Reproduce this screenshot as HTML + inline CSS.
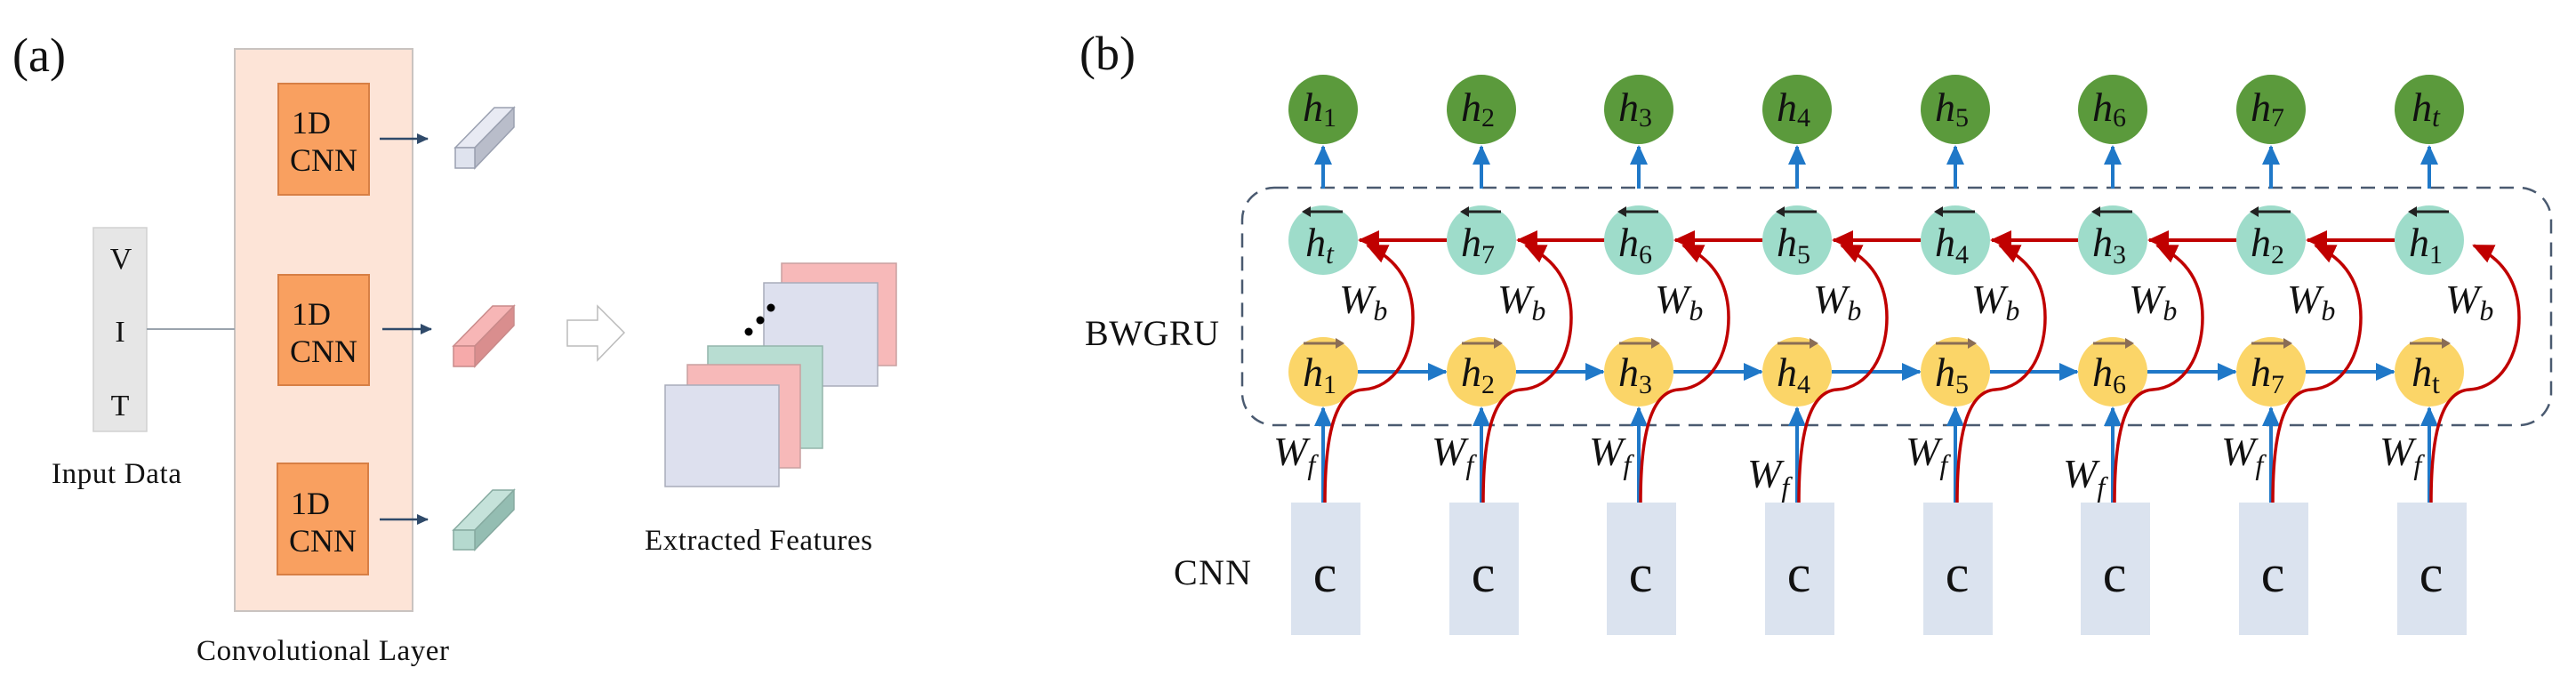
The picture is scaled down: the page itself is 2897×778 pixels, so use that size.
<!DOCTYPE html>
<html><head><meta charset="utf-8"><style>
html,body{margin:0;padding:0;background:#fff;}
svg{display:block;}
.t{font-family:"Liberation Serif",serif;fill:#111;}
.m{font-family:"Liberation Serif",serif;font-style:italic;fill:#111;font-size:46px;}
.s{font-style:normal;font-size:30px;}
</style></head><body>
<svg width="2897" height="778" viewBox="0 0 2897 778" xmlns="http://www.w3.org/2000/svg">
<defs>
<marker id="ab" markerUnits="userSpaceOnUse" markerWidth="24" markerHeight="24" refX="20" refY="12" orient="auto"><path d="M0,2 L22,12 L0,22 Z" fill="#1f78c8"/></marker>
<marker id="ar" markerUnits="userSpaceOnUse" markerWidth="26" markerHeight="26" refX="22" refY="13" orient="auto"><path d="M0,2 L24,13 L0,24 Z" fill="#c00000"/></marker>
<marker id="ad" markerUnits="userSpaceOnUse" markerWidth="14" markerHeight="14" refX="12" refY="7" orient="auto"><path d="M0,1 L13,7 L0,13 Z" fill="#2f4a6a"/></marker>
<g id="bk"><line x1="-22" y1="-32" x2="22" y2="-32" stroke="#222" stroke-width="3"/><path d="M-24,-32 L-14,-38 L-14,-26 Z" fill="#222"/></g>
<g id="fw"><line x1="-22" y1="-32" x2="22" y2="-32" stroke="#8a6d55" stroke-width="3"/><path d="M24,-32 L14,-38 L14,-26 Z" fill="#8a6d55"/></g>
</defs>

<!-- ===== (a) ===== -->
<text class="t" x="14" y="80" font-size="54">(a)</text>
<rect x="264" y="55" width="200" height="632" fill="#fde4d7" stroke="#c9c3c0" stroke-width="2"/>
<rect x="313" y="94" width="102" height="125" fill="#f9a060" stroke="#d77f45" stroke-width="2"/>
<rect x="313" y="309" width="102" height="124" fill="#f9a060" stroke="#d77f45" stroke-width="2"/>
<rect x="312" y="521" width="102" height="125" fill="#f9a060" stroke="#d77f45" stroke-width="2"/>
<text class="t" font-size="36"><tspan x="328" y="150">1D</tspan><tspan x="326" y="192">CNN</tspan></text>
<text class="t" font-size="36"><tspan x="328" y="365">1D</tspan><tspan x="326" y="407">CNN</tspan></text>
<text class="t" font-size="36"><tspan x="327" y="578">1D</tspan><tspan x="325" y="620">CNN</tspan></text>
<line x1="427" y1="156" x2="481" y2="156" stroke="#2f4a6a" stroke-width="2.5" marker-end="url(#ad)"/>
<line x1="430" y1="370" x2="485" y2="370" stroke="#2f4a6a" stroke-width="2.5" marker-end="url(#ad)"/>
<line x1="427" y1="584" x2="481" y2="584" stroke="#2f4a6a" stroke-width="2.5" marker-end="url(#ad)"/>
<!-- bars -->
<g stroke="#9aa0b0" stroke-width="1.5">
<polygon points="512,166 556,121 578,121 534,166" fill="#e8eaf3"/>
<polygon points="534,166 578,121 578,143 534,189" fill="#b9bdca"/>
<rect x="512" y="166" width="22" height="23" fill="#dfe3ee"/>
</g>
<g stroke="#c98a8a" stroke-width="1.5">
<polygon points="510,389 554,344 578,344 534,389" fill="#f7b6b6"/>
<polygon points="534,389 578,344 578,366 534,412" fill="#d98e8e"/>
<rect x="510" y="389" width="24" height="23" fill="#f6aaaa"/>
</g>
<g stroke="#86aaa0" stroke-width="1.5">
<polygon points="510,596 554,551 578,551 534,596" fill="#c5e2da"/>
<polygon points="534,596 578,551 578,573 534,618" fill="#94bdb2"/>
<rect x="510" y="596" width="24" height="22" fill="#b5d9cf"/>
</g>
<!-- VIT -->
<rect x="105" y="256" width="60" height="229" fill="#e6e6e6" stroke="#d0d0d0" stroke-width="1.5"/>
<text class="t" font-size="34" text-anchor="middle"><tspan x="136" y="302">V</tspan><tspan x="135" y="384">I</tspan><tspan x="135" y="467">T</tspan></text>
<line x1="165" y1="370" x2="264" y2="370" stroke="#9aa3ad" stroke-width="2"/>
<text class="t" x="58" y="543" font-size="33" textLength="146">Input Data</text>
<text class="t" x="221" y="742" font-size="33" textLength="284">Convolutional Layer</text>
<!-- hollow arrow -->
<polygon points="638,360 672,360 672,344 702,374 672,405 672,389 638,389" fill="#fff" stroke="#bbb" stroke-width="1.5"/>
<!-- feature maps -->
<rect x="879" y="296" width="129" height="115" fill="#f7b9b9" stroke="#c9a0a0" stroke-width="1.5"/>
<rect x="859" y="318" width="128" height="116" fill="#dde0ee" stroke="#a8acba" stroke-width="1.5"/>
<rect x="796" y="389" width="129" height="115" fill="#b8ddd2" stroke="#94b5ab" stroke-width="1.5"/>
<rect x="773" y="410" width="127" height="116" fill="#f7b9b9" stroke="#c9a0a0" stroke-width="1.5"/>
<rect x="748" y="433" width="128" height="114" fill="#dde0ee" stroke="#a8acba" stroke-width="1.5"/>
<circle cx="867" cy="346" r="4.5" fill="#000"/><circle cx="855" cy="360" r="4.5" fill="#000"/><circle cx="842" cy="373" r="4.5" fill="#000"/>
<text class="t" x="725" y="618" font-size="33" textLength="256">Extracted Features</text>

<!-- ===== (b) ===== -->
<text class="t" x="1214" y="78" font-size="54">(b)</text>
<text class="t" x="1220" y="388" font-size="40" textLength="151">BWGRU</text>
<text class="t" x="1320" y="657" font-size="40" textLength="87">CNN</text>
<rect x="1397" y="211" width="1472" height="267" rx="36" ry="36" fill="none" stroke="#4a5a70" stroke-width="2.5" stroke-dasharray="16,10"/>

<!-- horizontal arrows -->
<g stroke="#1f78c8" stroke-width="4" marker-end="url(#ab)">
<line x1="1527" y1="418" x2="1626" y2="418"/>
<line x1="1705" y1="418" x2="1803" y2="418"/>
<line x1="1882" y1="418" x2="1981" y2="418"/>
<line x1="2060" y1="418" x2="2159" y2="418"/>
<line x1="2238" y1="418" x2="2336" y2="418"/>
<line x1="2415" y1="418" x2="2514" y2="418"/>
<line x1="2593" y1="418" x2="2692" y2="418"/>
</g>
<g stroke="#c00000" stroke-width="4" marker-end="url(#ar)">
<line x1="1627" y1="270" x2="1529" y2="270"/>
<line x1="1805" y1="270" x2="1707" y2="270"/>
<line x1="1982" y1="270" x2="1884" y2="270"/>
<line x1="2160" y1="270" x2="2062" y2="270"/>
<line x1="2337" y1="270" x2="2240" y2="270"/>
<line x1="2515" y1="270" x2="2417" y2="270"/>
<line x1="2693" y1="270" x2="2595" y2="270"/>
</g>

<!-- column 1 -->
<g transform="translate(1488,0)">
<rect x="-36" y="565" width="78" height="149" fill="#dbe3ef"/>
<text class="t" x="2" y="665" font-size="60" text-anchor="middle">c</text>
<line x1="0" y1="212" x2="0" y2="165" stroke="#1f78c8" stroke-width="4" marker-end="url(#ab)"/>
<line x1="0" y1="565" x2="0" y2="459" stroke="#1f78c8" stroke-width="4" marker-end="url(#ab)"/>
<circle cx="0" cy="123" r="39" fill="#5b9a3c"/>
<circle cx="0" cy="270" r="39" fill="#9edcca"/>
<circle cx="0" cy="418" r="39" fill="#fbd568"/>
<path d="M2,565 C2,500 10,440 45,438 C80,436 101,400 101,357 C101,315 80,290 50,276" fill="none" stroke="#c00000" stroke-width="3.5" marker-end="url(#ar)"/>
<text class="m" x="-4" y="136" text-anchor="middle">h<tspan class="s" dy="6">1</tspan></text>
<g transform="translate(0,270)"><use href="#bk"/></g>
<text class="m" x="-4" y="288" text-anchor="middle">h<tspan dy="8" font-size="32">t</tspan></text>
<g transform="translate(0,418)"><use href="#fw"/></g>
<text class="m" x="-4" y="434" text-anchor="middle">h<tspan class="s" dy="8">1</tspan></text>
<text class="m" x="18" y="352">W<tspan dy="8" font-size="32">b</tspan></text>
<text class="m" x="-56" y="523">W<tspan dy="10" font-size="32">f</tspan></text>
</g>
<!-- column 2 -->
<g transform="translate(1666,0)">
<rect x="-36" y="565" width="78" height="149" fill="#dbe3ef"/>
<text class="t" x="2" y="665" font-size="60" text-anchor="middle">c</text>
<line x1="0" y1="212" x2="0" y2="165" stroke="#1f78c8" stroke-width="4" marker-end="url(#ab)"/>
<line x1="0" y1="565" x2="0" y2="459" stroke="#1f78c8" stroke-width="4" marker-end="url(#ab)"/>
<circle cx="0" cy="123" r="39" fill="#5b9a3c"/>
<circle cx="0" cy="270" r="39" fill="#9edcca"/>
<circle cx="0" cy="418" r="39" fill="#fbd568"/>
<path d="M2,565 C2,500 10,440 45,438 C80,436 101,400 101,357 C101,315 80,290 50,276" fill="none" stroke="#c00000" stroke-width="3.5" marker-end="url(#ar)"/>
<text class="m" x="-4" y="136" text-anchor="middle">h<tspan class="s" dy="6">2</tspan></text>
<g transform="translate(0,270)"><use href="#bk"/></g>
<text class="m" x="-4" y="288" text-anchor="middle">h<tspan class="s" dy="8">7</tspan></text>
<g transform="translate(0,418)"><use href="#fw"/></g>
<text class="m" x="-4" y="434" text-anchor="middle">h<tspan class="s" dy="8">2</tspan></text>
<text class="m" x="18" y="352">W<tspan dy="8" font-size="32">b</tspan></text>
<text class="m" x="-56" y="523">W<tspan dy="10" font-size="32">f</tspan></text>
</g>
<!-- column 3 -->
<g transform="translate(1843,0)">
<rect x="-36" y="565" width="78" height="149" fill="#dbe3ef"/>
<text class="t" x="2" y="665" font-size="60" text-anchor="middle">c</text>
<line x1="0" y1="212" x2="0" y2="165" stroke="#1f78c8" stroke-width="4" marker-end="url(#ab)"/>
<line x1="0" y1="565" x2="0" y2="459" stroke="#1f78c8" stroke-width="4" marker-end="url(#ab)"/>
<circle cx="0" cy="123" r="39" fill="#5b9a3c"/>
<circle cx="0" cy="270" r="39" fill="#9edcca"/>
<circle cx="0" cy="418" r="39" fill="#fbd568"/>
<path d="M2,565 C2,500 10,440 45,438 C80,436 101,400 101,357 C101,315 80,290 50,276" fill="none" stroke="#c00000" stroke-width="3.5" marker-end="url(#ar)"/>
<text class="m" x="-4" y="136" text-anchor="middle">h<tspan class="s" dy="6">3</tspan></text>
<g transform="translate(0,270)"><use href="#bk"/></g>
<text class="m" x="-4" y="288" text-anchor="middle">h<tspan class="s" dy="8">6</tspan></text>
<g transform="translate(0,418)"><use href="#fw"/></g>
<text class="m" x="-4" y="434" text-anchor="middle">h<tspan class="s" dy="8">3</tspan></text>
<text class="m" x="18" y="352">W<tspan dy="8" font-size="32">b</tspan></text>
<text class="m" x="-56" y="523">W<tspan dy="10" font-size="32">f</tspan></text>
</g>
<!-- column 4 -->
<g transform="translate(2021,0)">
<rect x="-36" y="565" width="78" height="149" fill="#dbe3ef"/>
<text class="t" x="2" y="665" font-size="60" text-anchor="middle">c</text>
<line x1="0" y1="212" x2="0" y2="165" stroke="#1f78c8" stroke-width="4" marker-end="url(#ab)"/>
<line x1="0" y1="565" x2="0" y2="459" stroke="#1f78c8" stroke-width="4" marker-end="url(#ab)"/>
<circle cx="0" cy="123" r="39" fill="#5b9a3c"/>
<circle cx="0" cy="270" r="39" fill="#9edcca"/>
<circle cx="0" cy="418" r="39" fill="#fbd568"/>
<path d="M2,565 C2,500 10,440 45,438 C80,436 101,400 101,357 C101,315 80,290 50,276" fill="none" stroke="#c00000" stroke-width="3.5" marker-end="url(#ar)"/>
<text class="m" x="-4" y="136" text-anchor="middle">h<tspan class="s" dy="6">4</tspan></text>
<g transform="translate(0,270)"><use href="#bk"/></g>
<text class="m" x="-4" y="288" text-anchor="middle">h<tspan class="s" dy="8">5</tspan></text>
<g transform="translate(0,418)"><use href="#fw"/></g>
<text class="m" x="-4" y="434" text-anchor="middle">h<tspan class="s" dy="8">4</tspan></text>
<text class="m" x="18" y="352">W<tspan dy="8" font-size="32">b</tspan></text>
<text class="m" x="-56" y="548">W<tspan dy="10" font-size="32">f</tspan></text>
</g>
<!-- column 5 -->
<g transform="translate(2199,0)">
<rect x="-36" y="565" width="78" height="149" fill="#dbe3ef"/>
<text class="t" x="2" y="665" font-size="60" text-anchor="middle">c</text>
<line x1="0" y1="212" x2="0" y2="165" stroke="#1f78c8" stroke-width="4" marker-end="url(#ab)"/>
<line x1="0" y1="565" x2="0" y2="459" stroke="#1f78c8" stroke-width="4" marker-end="url(#ab)"/>
<circle cx="0" cy="123" r="39" fill="#5b9a3c"/>
<circle cx="0" cy="270" r="39" fill="#9edcca"/>
<circle cx="0" cy="418" r="39" fill="#fbd568"/>
<path d="M2,565 C2,500 10,440 45,438 C80,436 101,400 101,357 C101,315 80,290 50,276" fill="none" stroke="#c00000" stroke-width="3.5" marker-end="url(#ar)"/>
<text class="m" x="-4" y="136" text-anchor="middle">h<tspan class="s" dy="6">5</tspan></text>
<g transform="translate(0,270)"><use href="#bk"/></g>
<text class="m" x="-4" y="288" text-anchor="middle">h<tspan class="s" dy="8">4</tspan></text>
<g transform="translate(0,418)"><use href="#fw"/></g>
<text class="m" x="-4" y="434" text-anchor="middle">h<tspan class="s" dy="8">5</tspan></text>
<text class="m" x="18" y="352">W<tspan dy="8" font-size="32">b</tspan></text>
<text class="m" x="-56" y="523">W<tspan dy="10" font-size="32">f</tspan></text>
</g>
<!-- column 6 -->
<g transform="translate(2376,0)">
<rect x="-36" y="565" width="78" height="149" fill="#dbe3ef"/>
<text class="t" x="2" y="665" font-size="60" text-anchor="middle">c</text>
<line x1="0" y1="212" x2="0" y2="165" stroke="#1f78c8" stroke-width="4" marker-end="url(#ab)"/>
<line x1="0" y1="565" x2="0" y2="459" stroke="#1f78c8" stroke-width="4" marker-end="url(#ab)"/>
<circle cx="0" cy="123" r="39" fill="#5b9a3c"/>
<circle cx="0" cy="270" r="39" fill="#9edcca"/>
<circle cx="0" cy="418" r="39" fill="#fbd568"/>
<path d="M2,565 C2,500 10,440 45,438 C80,436 101,400 101,357 C101,315 80,290 50,276" fill="none" stroke="#c00000" stroke-width="3.5" marker-end="url(#ar)"/>
<text class="m" x="-4" y="136" text-anchor="middle">h<tspan class="s" dy="6">6</tspan></text>
<g transform="translate(0,270)"><use href="#bk"/></g>
<text class="m" x="-4" y="288" text-anchor="middle">h<tspan class="s" dy="8">3</tspan></text>
<g transform="translate(0,418)"><use href="#fw"/></g>
<text class="m" x="-4" y="434" text-anchor="middle">h<tspan class="s" dy="8">6</tspan></text>
<text class="m" x="18" y="352">W<tspan dy="8" font-size="32">b</tspan></text>
<text class="m" x="-56" y="548">W<tspan dy="10" font-size="32">f</tspan></text>
</g>
<!-- column 7 -->
<g transform="translate(2554,0)">
<rect x="-36" y="565" width="78" height="149" fill="#dbe3ef"/>
<text class="t" x="2" y="665" font-size="60" text-anchor="middle">c</text>
<line x1="0" y1="212" x2="0" y2="165" stroke="#1f78c8" stroke-width="4" marker-end="url(#ab)"/>
<line x1="0" y1="565" x2="0" y2="459" stroke="#1f78c8" stroke-width="4" marker-end="url(#ab)"/>
<circle cx="0" cy="123" r="39" fill="#5b9a3c"/>
<circle cx="0" cy="270" r="39" fill="#9edcca"/>
<circle cx="0" cy="418" r="39" fill="#fbd568"/>
<path d="M2,565 C2,500 10,440 45,438 C80,436 101,400 101,357 C101,315 80,290 50,276" fill="none" stroke="#c00000" stroke-width="3.5" marker-end="url(#ar)"/>
<text class="m" x="-4" y="136" text-anchor="middle">h<tspan class="s" dy="6">7</tspan></text>
<g transform="translate(0,270)"><use href="#bk"/></g>
<text class="m" x="-4" y="288" text-anchor="middle">h<tspan class="s" dy="8">2</tspan></text>
<g transform="translate(0,418)"><use href="#fw"/></g>
<text class="m" x="-4" y="434" text-anchor="middle">h<tspan class="s" dy="8">7</tspan></text>
<text class="m" x="18" y="352">W<tspan dy="8" font-size="32">b</tspan></text>
<text class="m" x="-56" y="523">W<tspan dy="10" font-size="32">f</tspan></text>
</g>
<!-- column 8 -->
<g transform="translate(2732,0)">
<rect x="-36" y="565" width="78" height="149" fill="#dbe3ef"/>
<text class="t" x="2" y="665" font-size="60" text-anchor="middle">c</text>
<line x1="0" y1="212" x2="0" y2="165" stroke="#1f78c8" stroke-width="4" marker-end="url(#ab)"/>
<line x1="0" y1="565" x2="0" y2="459" stroke="#1f78c8" stroke-width="4" marker-end="url(#ab)"/>
<circle cx="0" cy="123" r="39" fill="#5b9a3c"/>
<circle cx="0" cy="270" r="39" fill="#9edcca"/>
<circle cx="0" cy="418" r="39" fill="#fbd568"/>
<path d="M2,565 C2,500 10,440 45,438 C80,436 101,400 101,357 C101,315 80,290 50,276" fill="none" stroke="#c00000" stroke-width="3.5" marker-end="url(#ar)"/>
<text class="m" x="-4" y="136" text-anchor="middle">h<tspan dy="6" font-size="32">t</tspan></text>
<g transform="translate(0,270)"><use href="#bk"/></g>
<text class="m" x="-4" y="288" text-anchor="middle">h<tspan class="s" dy="8">1</tspan></text>
<g transform="translate(0,418)"><use href="#fw"/></g>
<text class="m" x="-4" y="434" text-anchor="middle">h<tspan dy="8" font-size="32" font-style="normal">t</tspan></text>
<text class="m" x="18" y="352">W<tspan dy="8" font-size="32">b</tspan></text>
<text class="m" x="-56" y="523">W<tspan dy="10" font-size="32">f</tspan></text>
</g>
</svg>
</body></html>
